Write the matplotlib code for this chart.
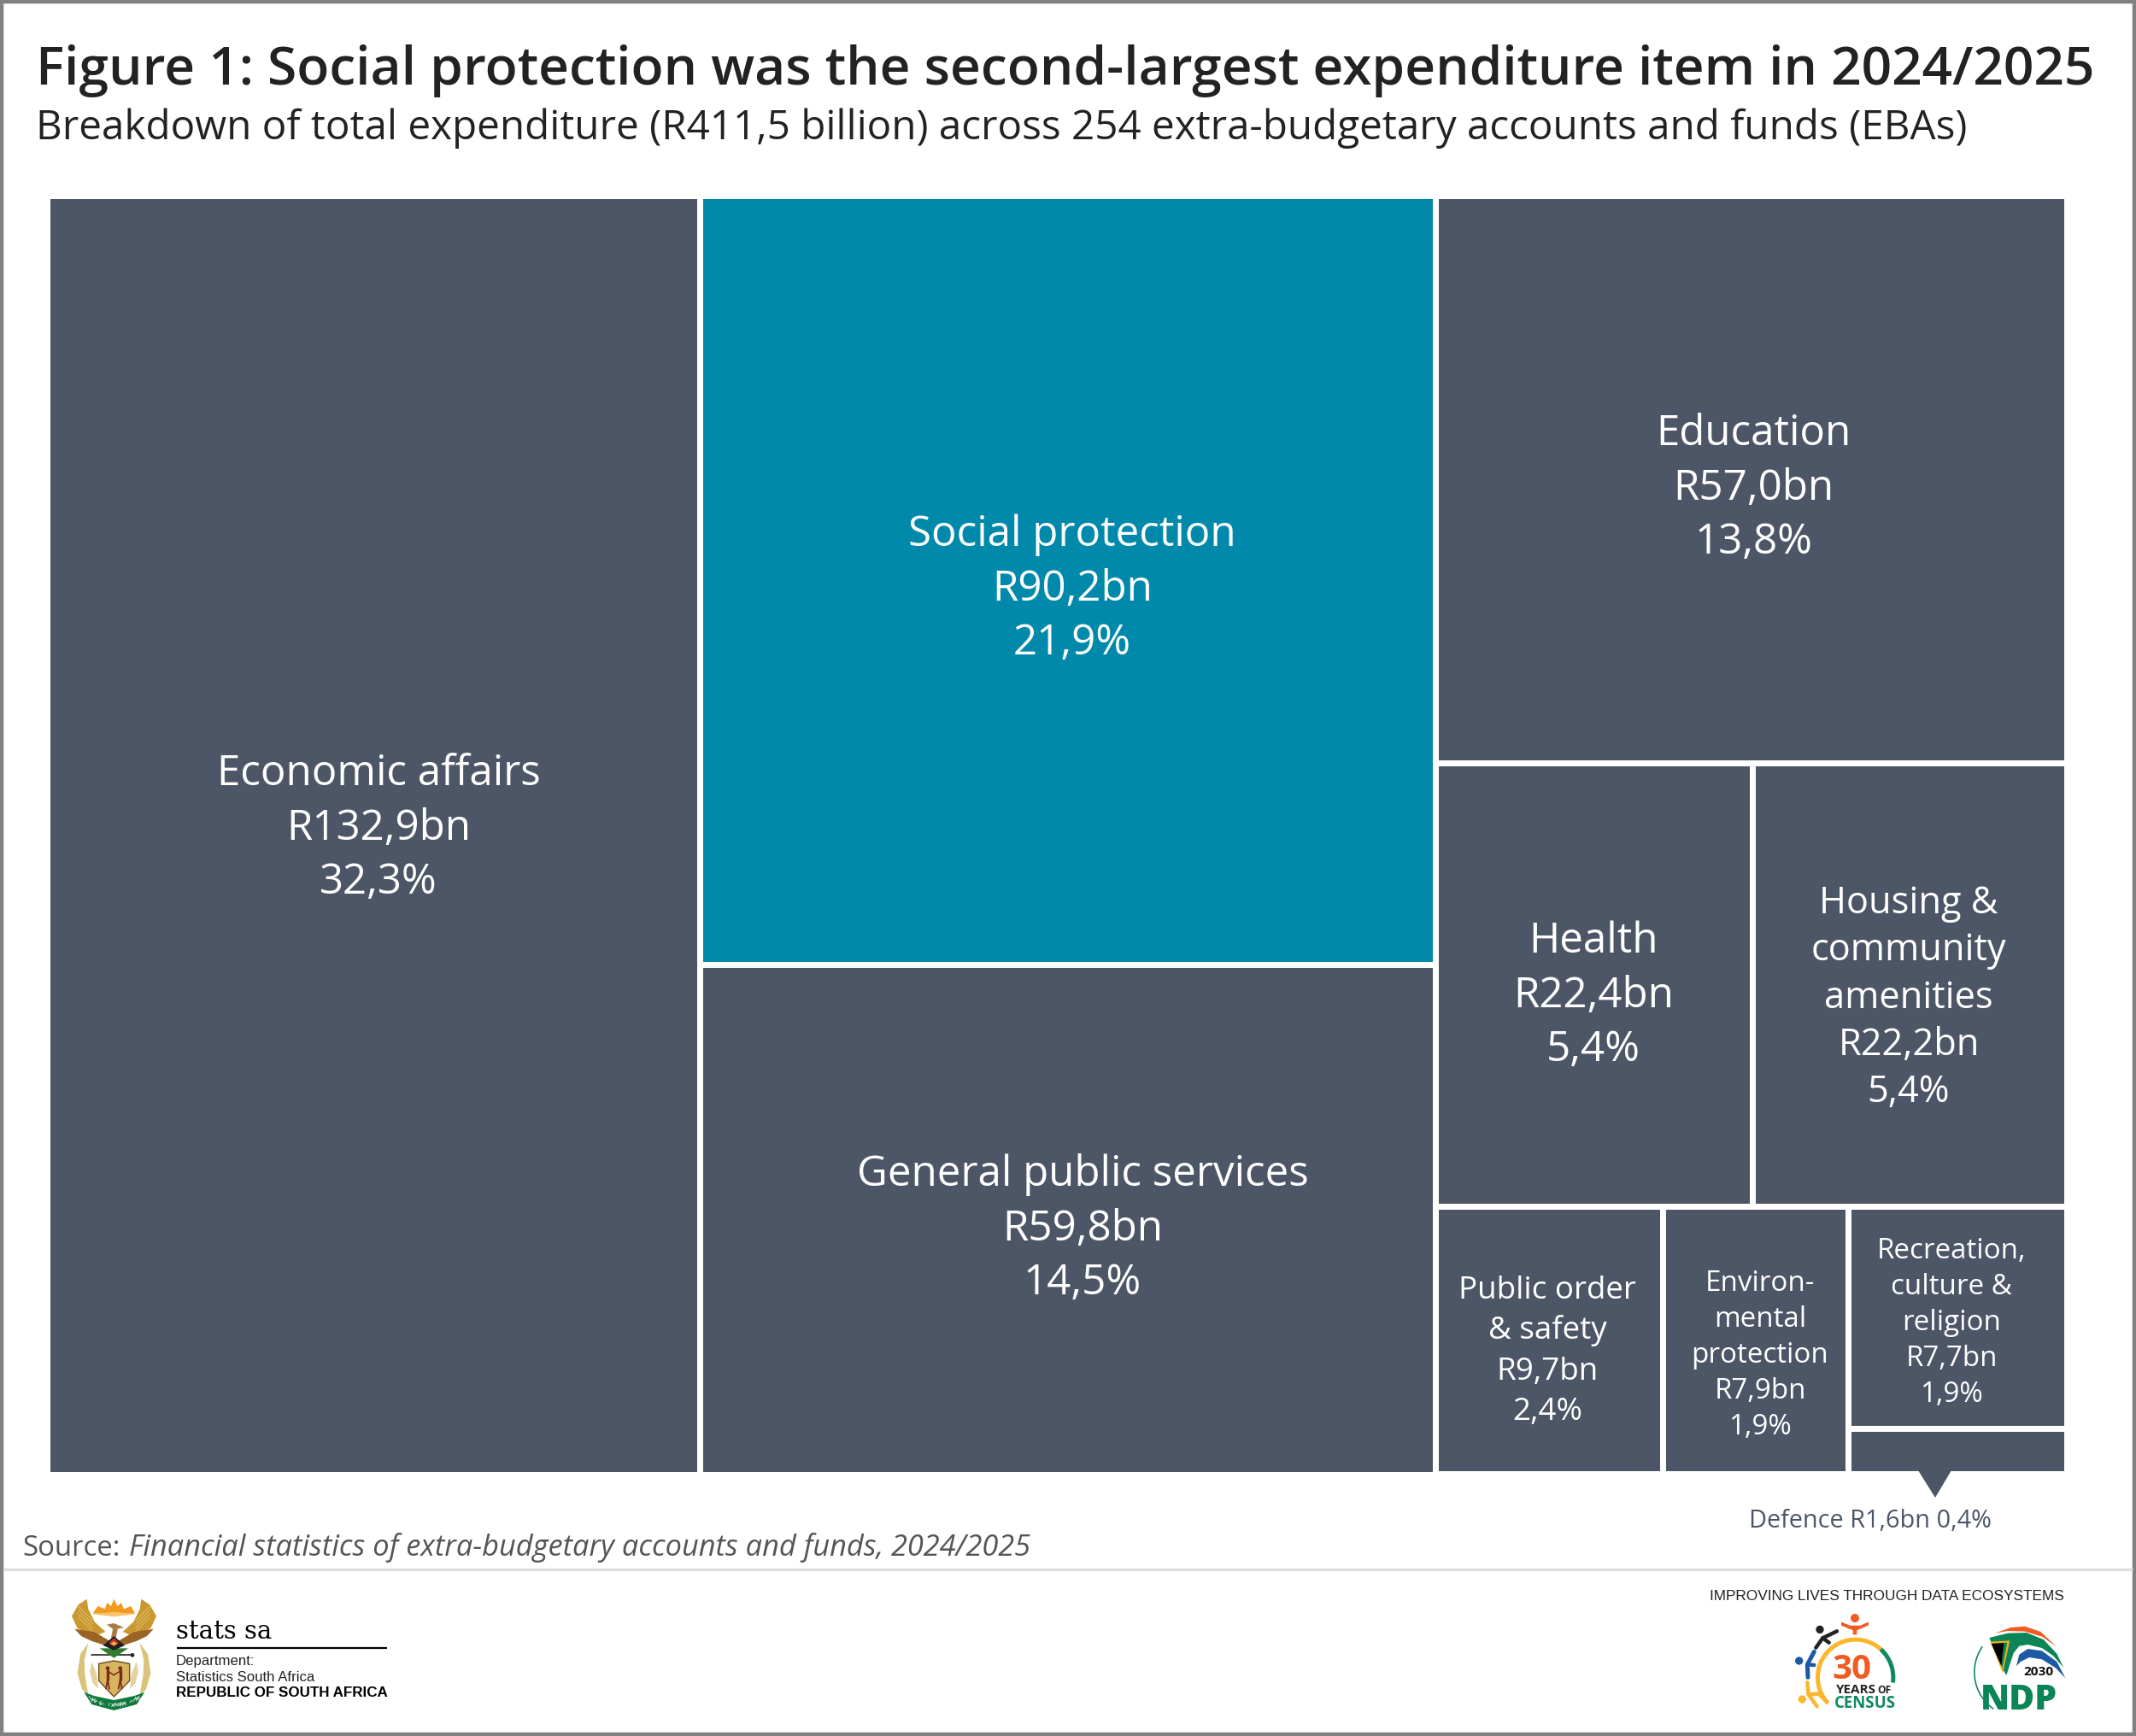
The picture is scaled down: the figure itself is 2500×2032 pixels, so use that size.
import math
import matplotlib
matplotlib.use("Agg")
import matplotlib.pyplot as plt
from matplotlib.patches import Rectangle, Polygon, Circle, Wedge

# ---------- data ----------
categories = ["Economic affairs", "Social protection", "General public services", "Education",
              "Health", "Housing & community amenities", "Public order & safety",
              "Environmental protection", "Recreation, culture & religion", "Defence"]
values_bn = [132.9, 90.2, 59.8, 57.0, 22.4, 22.2, 9.7, 7.9, 7.7, 1.6]
shares_pct = [32.3, 21.9, 14.5, 13.8, 5.4, 5.4, 2.4, 1.9, 1.9, 0.4]
name_lines = [["Economic affairs"], ["Social protection"], ["General public services"], ["Education"],
              ["Health"], ["Housing &", "community", "amenities"], ["Public order", "& safety"],
              ["Environ-", "mental", "protection"], ["Recreation,", "culture &", "religion"], []]
title = "Figure 1: Social protection was the second-largest expenditure item in 2024/2025"
subtitle = "Breakdown of total expenditure (R411,5 billion) across 254 extra-budgetary accounts and funds (EBAs)"
source_lead = "Source:"
source_name = "Financial statistics of extra-budgetary accounts and funds, 2024/2025"
defence_note = "Defence R1,6bn 0,4%"

# ---------- styles ----------
W, H = 2500, 2032
DARK, TEAL = "#4d5666", "#0089aa"
FONT = "Open Sans"
ARIAL = "Liberation Sans"
label_style = [
    (443, 965, "L"), (1255, 685, "L"), (1267, 1434, "L"), (2052, 567, "L"), (1865, 1161, "L"),
    (2234, 1164, "M"), (1811, 1578, "S"), (2060, 1583, "X"), (2284, 1545, "X"), None]
sizes = {"L": ("Economic affairs", 378, 63.5), "M": ("community", 228, 55.3),
         "S": ("Public order", 208, 47.5), "X": ("protection", 160, 42)}

fig = plt.figure(figsize=(W / 100, H / 100), dpi=100, facecolor="white")
rend = fig.canvas.get_renderer()

def fit_size(text, width_px, family=FONT, **kw):
    t = fig.text(0, 0, text, fontsize=40, family=family, **kw)
    w = t.get_window_extent(rend).width
    t.remove()
    return 40 * width_px / w

# ---------- treemap: nested slice layout driven by the values ----------
tree = ("h", [0, ("v", [1, 2]), ("v", [3, ("h", [4, 5]), ("h", [6, 7, ("v", [8, 9])])])])

def weight(node):
    return values_bn[node] if isinstance(node, int) else sum(weight(c) for c in node[1])

def layout(node, x, y, w, h, out):
    if isinstance(node, int):
        out[node] = (x, y, w, h)
        return
    total = weight(node)
    for child in node[1]:
        f = weight(child) / total
        if node[0] == "h":
            layout(child, x, y, w * f, h, out)
            x += w * f
        else:
            layout(child, x, y, w, h * f, out)
            y += h * f

ax = fig.add_axes([55 / W, 1 - 1725.5 / H, (2418.5 - 55) / W, (1725.5 - 229) / H])
ax.set_xlim(0, 1)
ax.set_ylim(1, 0)
ax.axis("off")
cells = {}
layout(tree, 0, 0, 1, 1, cells)
for i, cat in enumerate(categories):
    x, y, w, h = cells[i]
    ax.add_patch(Rectangle((x, y), w, h, facecolor=TEAL if cat == "Social protection" else DARK,
                           edgecolor="white", linewidth=5.04))

# ---------- overlay in pixel coordinates ----------
ov = fig.add_axes([0, 0, 1, 1], facecolor="none")
ov.set_xlim(0, W)
ov.set_ylim(H, 0)
ov.axis("off")

def txt(x, y, s, size, color, ha="left", family=FONT, **kw):
    return ov.text(x, y, s, fontsize=size, color=color, ha=ha, va="baseline", family=family, **kw)

for i, st in enumerate(label_style):
    if st is None:
        continue
    cx, cy, key = st
    ref, width, pitch = sizes[key]
    fs = fit_size(ref, width)
    lines = name_lines[i] + [f"R{values_bn[i]:.1f}bn".replace(".", ","),
                             f"{shares_pct[i]:.1f}%".replace(".", ",")]
    n = len(lines)
    for k, line in enumerate(lines):
        yy = cy + (k - (n - 1) / 2) * pitch + 0.36 * fs * 100 / 72
        txt(cx, yy, line, fs, "white", ha="center")

# title block
txt(42, 98.5, title, fit_size(title, 2406, weight="semibold"), "#222222", weight="semibold")
txt(42, 162.5, subtitle, fit_size(subtitle, 2257), "#222222")

# defence call-out
ov.add_patch(Polygon([(2245, 1721), (2284, 1721), (2265, 1753)], closed=True, facecolor=DARK, edgecolor="none"))
txt(2189, 1787.5, defence_note, fit_size(defence_note, 284), DARK, ha="center")

# source
txt(26, 1821, source_lead, fit_size(source_lead, 114), "#555555")
txt(151, 1821, source_name, fit_size(source_name, 1055, style="italic"), "#555555", style="italic")

# footer rule and frame
ov.plot([4, W - 4], [1837, 1837], color="#dddddd", lw=2.2, solid_capstyle="butt")
ov.add_patch(Rectangle((2, 2), W - 4, H - 4, facecolor="none", edgecolor="#808080", linewidth=3.2))

# stats sa lock-up
txt(206, 1917.5, "stats sa", fit_size("stats sa", 112, family="DejaVu Serif"), "black", family="DejaVu Serif")
ov.plot([207, 453], [1929, 1929], color="black", lw=1.6, solid_capstyle="butt")
txt(206, 1949, "Department:", fit_size("Department:", 92, family=ARIAL), "#222222", family=ARIAL)
txt(206, 1968, "Statistics South Africa", fit_size("Statistics South Africa", 162, family=ARIAL), "#222222", family=ARIAL)
txt(206, 1986, "REPUBLIC OF SOUTH AFRICA", fit_size("REPUBLIC OF SOUTH AFRICA", 247, family=ARIAL, weight="bold"),
    "black", family=ARIAL, weight="bold")
imp = "IMPROVING LIVES THROUGH DATA ECOSYSTEMS"
txt(2416, 1873, imp, fit_size(imp, 415, family=ARIAL), "#222222", ha="right", family=ARIAL)

def maker(ox, oy):
    def conv(p):
        return (ox + p[0] / 3, oy + p[1] / 3)
    def poly(pts, color, z=3, **kw):
        ov.add_patch(Polygon([conv(p) for p in pts], closed=True, facecolor=color,
                             edgecolor=kw.pop("ec", "none"), zorder=z, **kw))
    def dot(x, y, r, color, z=3):
        ov.add_patch(Circle(conv((x, y)), r / 3, facecolor=color, edgecolor="none", zorder=z))
    def stroke(pts, color, lw, z=3):
        c = [conv(p) for p in pts]
        ov.plot([a for a, _ in c], [b for _, b in c], color=color, lw=lw, zorder=z,
                solid_capstyle="round", solid_joinstyle="round")
    return conv, poly, dot, stroke

# --- coat of arms (simplified)
conv, poly, dot, stroke = maker(70, 1860)
GOLD, GOLD2, BROWN, GREEN = "#c9992f", "#d9b565", "#9a6428", "#0f7a3c"
def mir(pts):
    return [(381 - x, y) for x, y in pts]
sun = [(116, 86), (133, 60), (158, 70), (166, 48), (180, 60), (190, 35), (203, 60), (215, 48), (225, 70), (250, 60), (264, 86)]
poly(sun, "#f29a1f")
poly([(115, 88), (190, 80), (265, 88), (190, 97)], "#f6c46a")
gw = [(95, 35), (100, 70), (122, 115), (160, 150), (125, 165), (62, 138), (42, 95), (65, 55)]
bw = [(52, 140), (120, 150), (175, 182), (165, 200), (110, 182), (75, 165)]
for pts in (gw, mir(gw)):
    poly(pts, GOLD)
for pts in (bw, mir(bw)):
    poly(pts, BROWN)
for sx, ex in ((60, 115), (321, 266)):
    for off in range(0, 40, 13):
        stroke([(sx + (5 if sx < 100 else -5), 60 + off), (ex, 110 + off)], "#f3e3b0", 0.35, 4)
poly([(165, 125), (190, 120), (225, 135), (203, 140), (197, 172), (180, 172), (186, 140)], "#a97b45", 4)
poly([(140, 208), (240, 208), (190, 242)], "#2f7d33", 4)
poly([(152, 198), (190, 165), (228, 198), (190, 215)], "#1f1f1f", 4)
poly([(172, 190), (190, 172), (208, 190), (190, 202)], "#c9302c", 5)
poly([(178, 192), (190, 184), (202, 192), (190, 199)], "#e9b93a", 6)
stroke([(112, 232), (258, 232)], "#222222", 1.2)
dot(255, 232, 7, "#222222")
tusk = [(100, 190), (72, 228), (62, 295), (78, 352), (100, 372), (88, 300), (86, 250)]
for pts in (tusk, mir(tusk)):
    poly(pts, "#d9c27a")
wheat = [(112, 255), (130, 300), (135, 350), (115, 330), (105, 290)]
for pts in (wheat, mir(wheat)):
    poly(pts, "#e4d3a0")
poly([(137, 262), (190, 252), (245, 262), (245, 322), (190, 378), (137, 322)], "#d8b45e", 4,
     ec="#6e4a1e", linewidth=1.0)
for hx in (168, 212):
    dot(hx, 278, 7, "#7a2a1a", 5)
    stroke([(hx, 285), (hx, 318)], "#7a2a1a", 2.4, 5)
    stroke([(hx, 318), (hx - 6, 350)], "#7a2a1a", 1.3, 5)
    stroke([(hx, 318), (hx + 6, 350)], "#7a2a1a", 1.3, 5)
    stroke([(hx, 288), (190, 302)], "#7a2a1a", 1.1, 5)
poly([(85, 362), (120, 375), (190, 390), (262, 375), (298, 362), (270, 405), (190, 426), (112, 405)], GREEN, 6)
motto = "!KE E: /XARRA //KE"
for k, ch in enumerate(motto):
    a = math.radians(90 + 34 - 68 * k / (len(motto) - 1))
    px, py = conv((190 + 150 * math.cos(a), 258 + 150 * math.sin(a)))
    ov.text(px, py, ch, fontsize=4.6, color="white", ha="center", va="center", family=ARIAL,
            weight="bold", rotation=math.degrees(a) - 90, rotation_mode="anchor", zorder=7)

# --- census logo (simplified)
conv, poly, dot, stroke = maker(2090, 1880)
CORANGE, CYEL, CGRN, CBLU = "#f15a22", "#fbb62b", "#0f8a5f", "#1c5aa6"
c = conv((245, 250))
ov.add_patch(Wedge(c, 46.7, 136.5, 312, width=5, facecolor=CYEL, edgecolor="none", zorder=3))
ov.add_patch(Wedge(c, 46.7, 312, 368, width=5, facecolor=CGRN, edgecolor="none", zorder=3))
dot(243, 42, 15, CORANGE)
poly([(195, 55), (225, 68), (262, 68), (292, 55), (290, 68), (250, 85), (250, 100), (236, 100), (236, 85), (195, 68)], CORANGE)
dot(120, 82, 14, "#222222")
stroke([(180, 88), (130, 112), (106, 146)], "#222222", 3.2)
stroke([(130, 112), (152, 128)], "#222222", 3.2)
dot(47, 192, 14, CBLU)
stroke([(100, 160), (76, 205), (78, 250)], CBLU, 3.6)
stroke([(76, 205), (100, 207)], CBLU, 3.2)
dot(58, 327, 14, CYEL)
stroke([(76, 268), (80, 310), (110, 352)], CYEL, 3.2)
stroke([(80, 310), (115, 308), (142, 332)], CYEL, 3.2)
txt(2167, 1965, "30", 29, CORANGE, ha="center", weight="bold")
txt(2149, 1982, "YEARS", fit_size("YEARS", 47, weight="bold"), "#222222", weight="bold")
txt(2197, 1982, "OF", fit_size("OF", 16, weight="bold"), "#222222", weight="bold")
txt(2147, 1999, "CENSUS", fit_size("CENSUS", 72, weight="bold"), CGRN, weight="bold")

# --- NDP logo (simplified)
conv, poly, dot, stroke = maker(2300, 1895)
NGRN = "#0b8457"
ov.add_patch(Wedge(conv((190, 187)), 53.3, 125, 215, width=1.6, facecolor=NGRN, edgecolor="none", zorder=3))
poly([(105, 50), (160, 30), (210, 26), (265, 45), (322, 98), (270, 62), (210, 44), (150, 42)], CORANGE)
poly([(85, 66), (150, 50), (215, 48), (275, 72), (322, 122), (345, 170), (310, 130), (270, 102), (220, 90),
      (190, 95), (170, 120), (145, 198), (128, 170)], NGRN)
poly([(180, 165), (190, 125), (220, 105), (270, 112), (322, 150), (352, 208), (318, 172), (270, 142), (225, 135), (195, 150)], CBLU)
poly([(88, 80), (157, 76), (132, 190)], "#f2b01e", 4)
poly([(98, 86), (148, 83), (131, 172)], NGRN, 5)
poly([(92, 87), (136, 84), (127, 165)], "black", 6)
txt(2368, 1961, "2030", fit_size("2030", 35, weight="bold"), "#111111", weight="bold", zorder=6)
txt(2318, 2001, "NDP", fit_size("NDP", 90, weight="heavy"), NGRN, weight="heavy", zorder=6)

fig.savefig("out.png", dpi=100, facecolor="white")
